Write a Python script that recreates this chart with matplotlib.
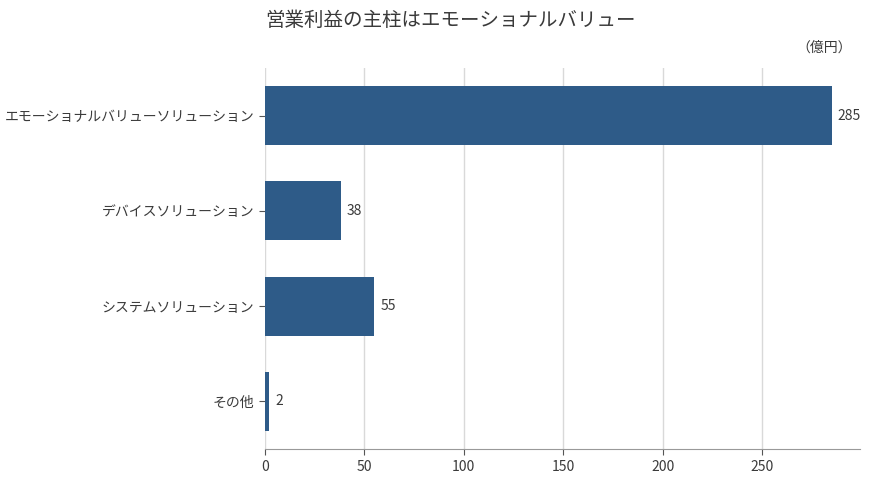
import matplotlib
matplotlib.use("Agg")
import matplotlib.pyplot as plt

plt.rcParams['font.family'] = ['Noto Sans CJK JP', 'DejaVu Sans']

# data
segments = ["エモーショナルバリューソリューション", "デバイスソリューション", "システムソリューション", "その他"]
profits = [285, 38, 55, 2]

title = "営業利益の主柱はエモーショナルバリュー"
unit = "（億円）"

bar_color = "#2e5b88"
text_color = "#3a3a3a"

fig = plt.figure(figsize=(8.7, 4.84), dpi=100)
ax = fig.add_axes([0.3046, 0.0723, 0.6839, 0.7872])

y = list(range(len(segments)))
ax.barh(y, profits, height=0.62, color=bar_color, zorder=3)

for yi, v in zip(y, profits):
    ax.text(v + 3, yi, str(v), va='center', ha='left', fontsize=10, color=text_color)

ax.set_yticks(y)
ax.set_yticklabels(segments, fontsize=10, color=text_color)
ax.set_ylim(len(segments) - 0.5, -0.5)
ax.set_xlim(0, max(profits) * 1.05)
ax.set_xticks([0, 50, 100, 150, 200, 250])
ax.tick_params(axis='x', labelsize=10, labelcolor=text_color, length=4, color="#555555", pad=4)
ax.tick_params(axis='y', length=4, color="#555555")

ax.grid(axis='x', color="#d9d9d9", linewidth=1, zorder=0)
for side in ['top', 'right', 'left']:
    ax.spines[side].set_visible(False)
ax.spines['bottom'].set_color("#999999")

fig.text(450 / 870, 1 - 20 / 484, title, ha='center', va='center', fontsize=14, color=text_color)
fig.text(852 / 870, 1 - 48 / 484, unit, ha='right', va='center', fontsize=10, color=text_color)

fig.savefig("out.png", dpi=100)
